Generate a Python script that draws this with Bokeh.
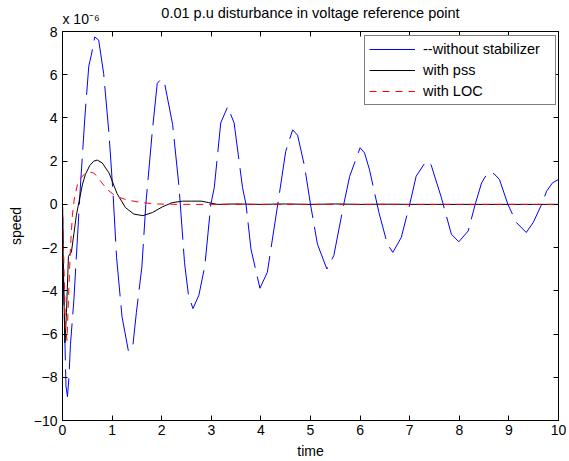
from bokeh.plotting import figure
from bokeh.models import (LinearAxis, Legend, LegendItem, FixedTicker, Range1d,
                          PrintfTickFormatter)
from bokeh.embed import file_html
from bokeh.resources import INLINE

# ---------------- data (speed in units of 1e-6) ----------------
blue_t = [0.00, 0.03, 0.07, 0.10, 0.13, 0.16, 0.23, 0.30, 0.36, 0.45, 0.53, 0.58, 0.65, 0.73,
          0.83, 0.94, 1.02, 1.09, 1.20, 1.33, 1.42, 1.49, 1.60, 1.68, 1.81, 1.91, 1.98, 2.05,
          2.22, 2.35, 2.46, 2.54, 2.63, 2.75, 2.87, 2.99, 3.06, 3.19, 3.33, 3.46, 3.63, 3.70,
          3.80, 3.98, 4.13, 4.34, 4.50, 4.64, 4.74, 4.88, 5.00, 5.14, 5.33, 5.47, 5.67, 5.79,
          6.00, 6.09, 6.19, 6.38, 6.55, 6.66, 6.83, 7.00, 7.13, 7.33, 7.43, 7.64, 7.84, 7.99,
          8.18, 8.32, 8.45, 8.57, 8.70, 8.81, 8.98, 9.15, 9.35, 9.49, 9.66, 9.76, 9.88, 10.00]
blue_v = [0.0, -4.5, -8.4, -8.9, -8.0, -6.5, -4.4, -1.6, 0.8, 4.0, 6.4, 6.9, 7.75, 7.6,
          6.05, 3.2, 0.46, -2.45, -5.2, -6.8, -6.5, -5.0, -2.9, 0.0, 3.37, 5.6, 5.78, 5.7,
          3.7, 0.8, -2.7, -4.2, -4.82, -4.2, -2.84, 0.0, 0.77, 3.77, 4.52, 3.77, 0.77, 0.0,
          -2.07, -3.88, -3.14, 0.0, 2.45, 3.45, 3.2, 1.76, 0.0, -1.84, -2.99, -2.37, 0.0, 1.3,
          2.62, 2.38, 1.6, -0.38, -1.84, -2.22, -1.53, 0.0, 1.3, 2.0, 1.84, 0.3, -1.38, -1.73,
          -1.23, 0.0, 1.0, 1.46, 1.42, 1.15, 0.0, -0.84, -1.3, -0.84, 0.0, 0.61, 1.0, 1.15]

pss_t = [0.00, 0.02, 0.05, 0.08, 0.12, 0.18, 0.23, 0.28, 0.33, 0.40, 0.46, 0.55, 0.63, 0.70,
         0.80, 0.94, 1.10, 1.27, 1.44, 1.62, 1.81, 2.01, 2.21, 2.42, 2.60, 2.80, 2.95, 3.12,
         3.50, 4.00, 4.50, 5.00, 5.50, 6.00, 6.50, 7.00, 7.50, 8.00, 8.50, 9.00, 9.50, 10.00]
pss_v = [0.0, -3.5, -6.4, -5.0, -2.4, -2.2, -1.35, -0.5, 0.1, 0.9, 1.38, 1.8, 2.0, 2.05,
         1.92, 1.45, 0.5, -0.15, -0.45, -0.52, -0.38, -0.12, 0.08, 0.15, 0.15, 0.15, 0.08, 0.0,
         0.02, 0.0, 0.02, 0.0, 0.02, 0.0, 0.01, 0.0, 0.0, 0.0, 0.0, 0.0, 0.0, 0.0]

loc_t = [0.00, 0.03, 0.06, 0.09, 0.12, 0.16, 0.20, 0.24, 0.30, 0.36, 0.45, 0.55, 0.63, 0.70,
         0.77, 0.90, 1.07, 1.31, 1.61, 1.88, 2.30, 3.00, 4.00, 5.00, 6.00, 7.00, 8.00, 9.00, 10.00]
loc_v = [0.0, -3.0, -5.6, -6.3, -4.4, -2.0, -0.5, 0.3, 0.9, 1.2, 1.42, 1.5, 1.45, 1.3,
         1.07, 0.69, 0.38, 0.2, 0.08, 0.02, 0.0, 0.0, 0.0, 0.0, 0.0, 0.0, 0.0, 0.0, 0.0]

x_ticks = [0, 1, 2, 3, 4, 5, 6, 7, 8, 9, 10]
y_ticks = [-10, -8, -6, -4, -2, 0, 2, 4, 6, 8]

series_names = ["--without stabilizer", "with pss", "with LOC"]
title_text = "0.01 p.u disturbance in voltage reference point"
multiplier_text = "x 10\u207b\u2076"

FONT = "Liberation Sans"
FS = "14px"
FS_BIG = "14.5px"

p = figure(width=569, height=461, x_range=Range1d(0, 10), y_range=Range1d(-10, 8),
           output_backend="svg", toolbar_location=None, title=None,
           min_border_left=62, min_border_right=11, min_border_top=31, min_border_bottom=39)
p.background_fill_color = "white"
p.border_fill_color = "white"
p.outline_line_color = "black"
p.grid.visible = False

def style_axis(ax, ticks):
    ax.ticker = FixedTicker(ticks=ticks)
    ax.axis_line_color = "black"
    ax.axis_line_width = 1
    ax.major_tick_line_color = "black"
    ax.major_tick_in = 5
    ax.major_tick_out = 0
    ax.minor_tick_line_color = None
    ax.major_label_text_font = FONT
    ax.major_label_text_color = "black"
    ax.major_label_text_font_size = FS
    ax.axis_label_text_font = FONT
    ax.axis_label_text_font_size = FS
    ax.axis_label_text_font_style = "normal"
    ax.axis_label_text_color = "black"

xa = p.xaxis[0]
ya = p.yaxis[0]
style_axis(xa, x_ticks)
style_axis(ya, y_ticks)
xa.axis_label = "time"
xa.major_label_standoff = 4
xa.axis_label_standoff = 5
ya.axis_label = "speed"
ya.major_label_standoff = 5
ya.axis_label_standoff = 7

# top axis: inward ticks (as minor ticks), the "x 10^-6" multiplier as its one label,
# and the chart title as its axis label
top = LinearAxis()
style_axis(top, x_ticks)
top.ticker = FixedTicker(ticks=[0.375], minor_ticks=x_ticks)
top.formatter = PrintfTickFormatter(format=multiplier_text)
top.major_tick_line_color = None
top.minor_tick_line_color = "black"
top.minor_tick_in = 5
top.minor_tick_out = 0
top.major_label_standoff = 5
top.axis_label = title_text
top.axis_label_text_font_size = FS_BIG
top.axis_label_standoff = -13
p.add_layout(top, "above")

# right axis: inward ticks only (as minor ticks), no labels at all
right = LinearAxis()
style_axis(right, y_ticks)
right.ticker = FixedTicker(ticks=[], minor_ticks=y_ticks)
right.major_tick_line_color = None
right.minor_tick_line_color = "black"
right.minor_tick_in = 5
right.minor_tick_out = 0
right.major_label_standoff = 0
p.add_layout(right, "right")

r_blue = p.line(blue_t, blue_v, line_color="#0000ff", line_width=1, line_dash="46 9")
r_pss = p.line(pss_t, pss_v, line_color="#000000", line_width=1)
r_loc = p.line(loc_t, loc_v, line_color="#ff0000", line_width=1, line_dash="7 6")

legend = Legend(items=[LegendItem(label=series_names[0], renderers=[r_blue]),
                       LegendItem(label=series_names[1], renderers=[r_pss]),
                       LegendItem(label=series_names[2], renderers=[r_loc])],
                location=(302, 315))
legend.label_text_font = FONT
legend.label_text_font_size = FS_BIG
legend.label_text_color = "#000000"
legend.glyph_width = 46
legend.glyph_height = 18
legend.label_height = 18
legend.label_standoff = 8
legend.label_width = 128
legend.padding = 4
legend.spacing = 3
legend.margin = 0
legend.border_line_color = "black"
legend.border_line_width = 1
legend.background_fill_color = "white"
legend.background_fill_alpha = 1
p.add_layout(legend, "center")

open("out.html", "w").write(file_html(p, INLINE))
